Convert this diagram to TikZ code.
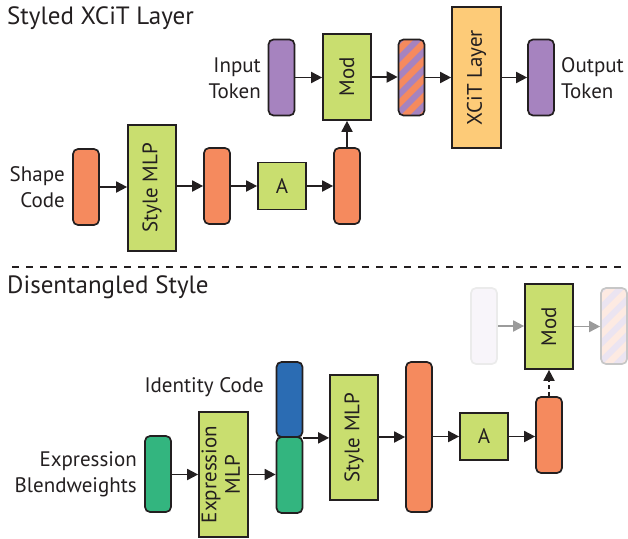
\documentclass[tikz,border=0pt]{standalone}
\usepackage{fontspec}
\usepackage{graphicx}
\setmainfont{PT Sans}
\usetikzlibrary{arrows.meta}

\definecolor{mlpgreen}{HTML}{C9DE6F}
\definecolor{tokorange}{HTML}{F58A5E}
\definecolor{tokpurple}{HTML}{A683BF}
\definecolor{layeryellow}{HTML}{FDCB78}
\definecolor{idblue}{HTML}{2B6CB3}
\definecolor{exgreen}{HTML}{33B57F}
\definecolor{ink}{HTML}{231F20}
\definecolor{fadegray}{HTML}{9B9B9B}

\tikzset{
  box/.style={draw=ink, line width=1.7pt, inner sep=0pt, text=ink},
  token/.style={box, rounded corners=5pt, minimum width=26pt, minimum height=76pt},
  mlp/.style={box, fill=mlpgreen, minimum width=48pt},
  label/.style={text=ink, inner sep=0pt, font=\fontsize{21}{26}\selectfont},
  title/.style={text=ink, inner sep=0pt, anchor=base west, font=\fontsize{25}{28}\selectfont},
  flow/.style={draw=ink, line width=1.8pt, -{Triangle[length=11pt,width=11pt]}},
  fadedflow/.style={flow, draw=fadegray, fill=fadegray},
  stripes/.style={path picture={
    \begin{scope}[shift={(path picture bounding box.center)}]
      \foreach \s in {-81,-63,...,81}
        \fill[#1] (-20,\s+20) -- (20,\s-20) -- (20,\s-11) -- (-20,\s+29) -- cycle;
    \end{scope}}},
}

\begin{document}
\begin{tikzpicture}[x=1pt, y=-1pt, font=\fontsize{21}{26}\selectfont]
\useasboundingbox (0,0) rectangle (628,538);

% ---------------- Styled XCiT layer ----------------
\node[title] (t1) at (7,24) {Styled XCiT Layer};

\node[token, fill=tokpurple] (intok) at (281.5,77.5) {};
\node[label, anchor=east, align=right] (inlab) at (261,78) {Input\\Token};
\node[mlp, minimum height=86pt] (mod1) at (347,77) {\rotatebox{90}{Mod}};
\node[token, fill=tokpurple, stripes=tokorange] (mix) at (411.5,77.5) {};
\node[box, fill=layeryellow, minimum width=49pt, minimum height=141pt] (xcit) at (476.5,77.5) {\rotatebox{90}{XCiT Layer}};
\node[token, fill=tokpurple] (outtok) at (541,77.5) {};
\node[label, anchor=west, align=left] (outlab) at (561,78) {Output\\Token};

\node[token, fill=tokorange] (shape) at (86,187) {};
\node[label, anchor=east, align=right] (shapelab) at (65,187) {Shape\\Code};
\node[mlp, minimum height=126pt] (smlp1) at (152,188) {\rotatebox{90}{Style MLP}};
\node[token, fill=tokorange] (o1) at (217,186) {};
\node[mlp, minimum height=47pt] (a1) at (282,186) {A};
\node[token, fill=tokorange] (o2) at (347,186) {};

\draw[flow] (intok.east) -- (intok.east -| mod1.west);
\draw[flow] (mod1.east) -- (mod1.east -| mix.west);
\draw[flow] (mix.east) -- (mix.east -| xcit.west);
\draw[flow] (xcit.east) -- (xcit.east -| outtok.west);
\draw[flow] (shape.east) -- (shape.east -| smlp1.west);
\draw[flow] (smlp1.east |- o1.west) -- (o1.west);
\draw[flow] (o1.east) -- (o1.east -| a1.west);
\draw[flow] (a1.east) -- (a1.east -| o2.west);
\draw[flow] (o2.north) -- (o2.north |- mod1.south);

% ---------------- separator ----------------
\coordinate (sepL) at (12,267);
\coordinate (sepR) at (628,267);
\draw[ink, line width=1.2pt, dash pattern=on 7pt off 7pt] (sepL) -- (sepR);

% ---------------- Disentangled style ----------------
\node[title] (t2) at (7,293) {Disentangled Style};

\node[token, fill=tokpurple!8, draw=black!8] (ghostL) at (484,326) {};
\node[mlp, minimum height=85pt] (mod2) at (549,326.5) {\rotatebox{90}{Mod}};
\node[token, fill=tokpurple!22, draw=black!22, stripes=tokorange!18] (ghostR) at (614,326) {};
\draw[fadedflow] (ghostL.east) -- (ghostL.east -| mod2.west);
\draw[fadedflow] (mod2.east) -- (mod2.east -| ghostR.west);

\node[token, fill=exgreen] (blend) at (158,474) {};
\node[label, anchor=east, align=right] (blendlab) at (137,474) {Expression\\Blendweights};
\node[mlp, minimum width=49pt, minimum height=125pt] (emlp) at (223.5,474.5)
  {\rotatebox{90}{\renewcommand\arraystretch{0.9}\begin{tabular}{@{}c@{}}Expression\\MLP\end{tabular}}};
\node[token, fill=idblue, minimum height=75pt] (idc) at (289.5,399.5) {};
\node[token, fill=exgreen] (exc) at (289.5,475) {};
\node[label, anchor=base east] (idlab) at (264,392) {Identity Code};
\node[mlp, minimum height=125pt] (smlp2) at (354,437.5) {\rotatebox{90}{Style MLP}};
\node[token, fill=tokorange, minimum height=150pt] (tall) at (419,437) {};
\node[mlp, minimum height=47pt] (a2) at (484,436.5) {A};
\node[token, fill=tokorange] (o4) at (549,435) {};

\draw[flow] (blend.east |- emlp.west) -- (emlp.west);
\draw[flow] (emlp.east) -- (emlp.east -| exc.west);
\draw[flow] (idc.south east) -- (idc.south east -| smlp2.west);
\draw[flow] (smlp2.east |- tall.west) -- (tall.west);
\draw[flow] (tall.east |- a2.west) -- (a2.west);
\draw[flow] (a2.east) -- (a2.east -| o4.west);
\draw[flow, dash pattern=on 4pt off 3pt] (o4.north) -- (o4.north |- mod2.south);

\end{tikzpicture}
\end{document}
